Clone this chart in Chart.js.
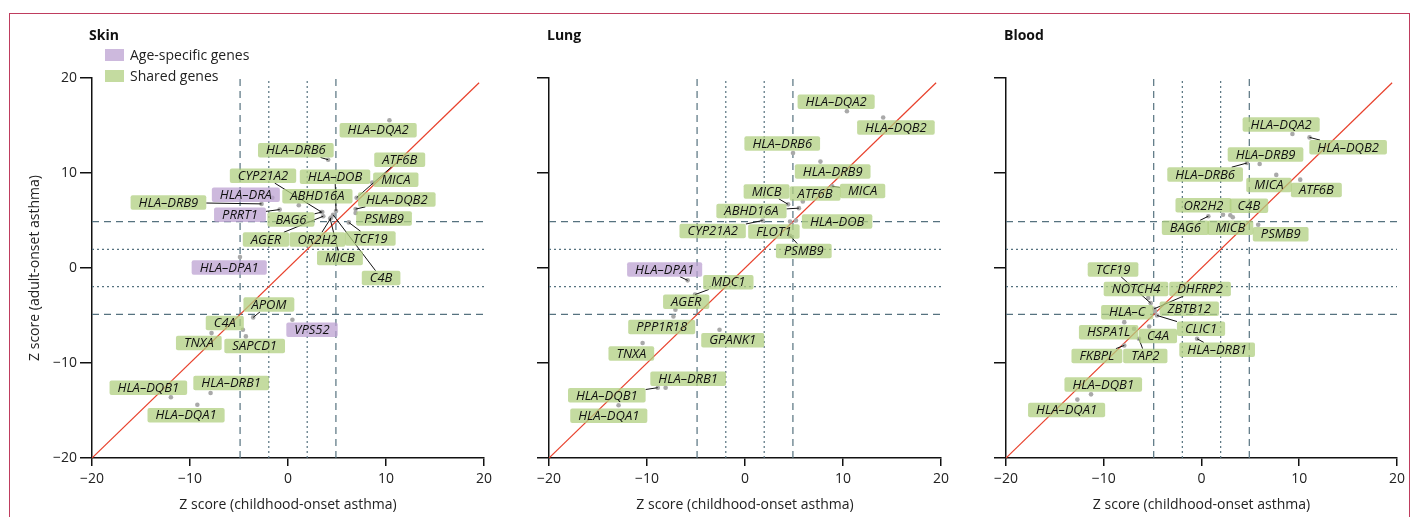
<!DOCTYPE html>
<html>
<head>
<meta charset="utf-8">
<script src="https://cdn.jsdelivr.net/npm/chart.js@4.4.1/dist/chart.umd.min.js"></script>
<style>
  body { margin: 0; background: #fff; font-family: 'Open Sans', sans-serif; }
  #page { position: relative; width: 1412px; height: 517px; overflow: hidden; }
  .frame { position: absolute; left: 9px; top: 13px; width: 1399px; height: 600px; border: 1px solid #bf3d5e; }
  .panel { position: absolute; top: 0; }
  .ptitle { position: absolute; top: 25px; font-weight: bold; font-size: 14px; color: #111; }
  .legend { position: absolute; left: 105px; top: 44px; font-size: 14px; color: #222; }
  .legend div { display: flex; align-items: center; height: 21px; }
  .swatch { width: 19px; height: 12px; margin-right: 6px; }
</style>
</head>
<body>
<div id="page">
  <div class="frame"></div>
  <canvas id="skinChart" class="panel" style="left:10px" width="487" height="517"></canvas>
  <canvas id="lungChart" class="panel" style="left:529px" width="425" height="517"></canvas>
  <canvas id="bloodChart" class="panel" style="left:986px" width="424" height="517"></canvas>
  <div class="ptitle" style="left:89px">Skin</div>
  <div class="ptitle" style="left:547px">Lung</div>
  <div class="ptitle" style="left:1004px">Blood</div>
  <div class="legend">
    <div><span class="swatch" id="swAge"></span>Age-specific genes</div>
    <div><span class="swatch" id="swShared"></span>Shared genes</div>
  </div>
</div>
<script>
// axis + reference lines
const axisTicks = [-20, -10, 0, 10, 20];
const dashedCut = [-4.89, 4.89];
const dottedCut = [-1.96, 1.96];
const diagonalEnds = [-20, 19.5];

// Skin
const skinGenes = ["HLA–DQA2", "HLA–DRB6", "ATF6B", "MICA", "HLA–DOB", "HLA–DQB2", "PSMB9", "TCF19",
  "CYP21A2", "ABHD16A", "HLA–DRA", "HLA–DRB9", "PRRT1", "BAG6", "AGER", "OR2H2", "MICB", "C4B",
  "HLA–DPA1", "APOM", "VPS52", "C4A", "SAPCD1", "TNXA", "HLA–DRB1", "HLA–DQB1", "HLA–DQA1"];
const skinChild = [10.35, 4.1, 7.0, 8.6, 4.9, 6.9, 6.9, 6.2, 3.4, 1.1, -1.6, -2.7, -0.85, 3.5, 3.6, 4.4, 4.3, 4.6,
  -4.9, -3.55, 0.45, -4.6, -4.3, -7.8, -7.9, -11.95, -9.25];
const skinAdult = [15.55, 11.4, 7.4, 9.0, 6.0, 6.2, 5.8, 4.8, 5.9, 6.6, 7.4, 6.75, 6.15, 5.9, 5.45, 5.3, 5.2, 5.6,
  1.15, -5.2, -5.45, -6.5, -7.2, -6.85, -13.15, -13.6, -14.4];
const skinLabelX = [9.2, 0.8, 11.4, 11.0, 4.8, 11.1, 9.8, 8.4, -2.55, 3.0, -4.3, -12.2, -4.9, 0.3, -2.25, 3.0, 5.3, 9.5,
  -6.0, -1.95, 2.45, -6.45, -3.4, -9.1, -5.8, -14.25, -10.4];
const skinLabelY = [14.5, 12.4, 11.4, 9.3, 9.6, 7.2, 5.2, 3.1, 9.7, 7.55, 7.7, 6.9, 5.6, 5.1, 3.0, 3.0, 1.05, -1.05,
  0.05, -3.85, -6.5, -5.8, -8.2, -7.9, -12.1, -12.6, -15.5];
const skinAgeSpecific = ["HLA–DRA", "PRRT1", "HLA–DPA1", "VPS52"];

// Lung
const lungGenes = ["HLA–DQA2", "HLA–DQB2", "HLA–DRB6", "HLA–DRB9", "MICA", "ATF6B", "MICB", "ABHD16A", "HLA–DOB",
  "CYP21A2", "FLOT1", "PSMB9", "HLA–DPA1", "MDC1", "AGER", "PPP1R18", "GPANK1", "TNXA", "HLA–DRB1", "HLA–DQB1", "HLA–DQA1"];
const lungChild = [10.4, 14.1, 4.9, 7.7, 8.9, 5.9, 4.4, 5.5, 5.2, 1.8, 4.6, 4.6, -5.85, -5.1, -7.1, -7.3, -2.6, -10.45, -8.1, -8.9, -12.9];
const lungAdult = [16.5, 15.85, 12.1, 11.2, 8.6, 7.0, 6.7, 6.3, 5.0, 5.0, 4.9, 3.4, -1.3, -2.8, -4.4, -5.1, -6.5, -7.9, -12.6, -12.6, -14.45];
const lungLabelX = [9.3, 15.4, 3.8, 8.95, 12.0, 7.15, 2.2, 0.66, 9.4, -3.3, 2.95, 6.0, -8.2, -1.7, -6.0, -8.5, -1.25, -11.6, -5.8, -14.1, -13.9];
const lungLabelY = [17.5, 14.8, 13.1, 10.15, 8.1, 7.85, 8.05, 6.0, 4.9, 3.9, 3.85, 1.8, -0.15, -1.5, -3.55, -6.2, -7.6, -9.0, -11.65, -13.4, -15.55];
const lungAgeSpecific = ["HLA–DPA1"];

// Blood
const bloodGenes = ["HLA–DQA2", "HLA–DQB2", "HLA–DRB9", "HLA–DRB6", "MICA", "ATF6B", "OR2H2", "C4B", "BAG6", "MICB", "PSMB9",
  "TCF19", "NOTCH4", "DHFRP2", "ZBTB12", "HLA–C", "HSPA1L", "C4A", "CLIC1", "TAP2", "FKBPL", "HLA–DRB1", "HLA–DQB1", "HLA–DQA1"];
const bloodChild = [9.3, 11.05, 5.95, 4.65, 7.65, 10.1, 2.2, 2.95, 0.7, 3.2, 5.8,
  -5.2, -5.45, -4.85, -4.75, -7.9, -6.9, -5.35, -4.55, -6.4, -7.9, -0.45, -11.3, -12.7];
const bloodAdult = [14.1, 13.75, 10.95, 11.05, 9.8, 9.3, 5.6, 5.55, 5.45, 5.35, 4.55,
  -3.7, -3.15, -4.3, -4.55, -5.7, -6.4, -6.15, -5.0, -7.45, -8.15, -7.45, -13.3, -13.85];
const bloodLabelX = [8.15, 15.0, 6.55, 0.37, 6.9, 11.75, 0.2, 4.85, -1.65, 2.95, 8.1,
  -9.05, -6.7, -0.15, -1.25, -7.6, -9.5, -4.45, -0.05, -5.75, -10.7, 1.6, -10.05, -13.8];
const bloodLabelY = [15.1, 12.7, 11.95, 9.85, 8.75, 8.2, 6.6, 6.55, 4.25, 4.25, 3.55,
  -0.17, -2.2, -2.2, -4.3, -4.65, -6.75, -7.15, -6.4, -9.25, -9.25, -8.6, -12.25, -14.95];
const bloodAgeSpecific = [];

const ageColor = "rgba(188,162,210,0.75)";
const sharedColor = "rgba(176,207,128,0.75)";
const refColor = "#56727f";
const fontFamily = "'Open Sans', sans-serif";

Chart.defaults.font.family = fontFamily;
document.getElementById("swAge").style.background = ageColor;
document.getElementById("swShared").style.background = sharedColor;

function refLine(data, dash) {
  return { data: data, showLine: true, borderColor: refColor, borderWidth: 1.2, borderDash: dash, pointRadius: 0, fill: false };
}

function fmt(v) {
  return v < 0 ? "\u2212" + Math.abs(v) : String(v);
}

function axis(isX, titleText, showLabels, yWidth) {
  return {
    type: "linear",
    min: -20,
    max: 20,
    afterBuildTicks: (s) => { s.ticks = axisTicks.map((v) => ({ value: v })); },
    ticks: {
      color: "#222",
      font: { size: 14 },
      padding: isX ? 5 : 3,
      maxRotation: 0,
      autoSkip: false,
      callback: (v) => (showLabels ? fmt(v) : ""),
    },
    grid: { drawOnChartArea: false, drawTicks: true, tickLength: isX ? 8 : 12, color: "#111", lineWidth: 1.5 },
    border: { display: true, color: "#111", width: 1.5 },
    title: {
      display: !!titleText,
      text: titleText,
      color: "#222",
      font: { size: 14 },
      padding: isX ? { top: 0, bottom: 3.6 } : { top: 17, bottom: 0 },
    },
    afterFit: (s) => {
      if (isX) s.height = 59;
      else s.width = yWidth;
    },
  };
}

// gene name boxes with leader segments
function labelPlugin(genes, child, adult, labelX, labelY, ageSpecific) {
  return {
    id: "geneLabels",
    afterDatasetsDraw(chart) {
      const { ctx, scales: { x, y } } = chart;
      ctx.save();
      ctx.font = "italic 13px " + fontFamily;
      const boxes = genes.map((g, i) => {
        const w = ctx.measureText(g).width + 16;
        const h = 14.5;
        return {
          g: g, w: w, h: h,
          cx: x.getPixelForValue(labelX[i]), cy: y.getPixelForValue(labelY[i]),
          px: x.getPixelForValue(child[i]), py: y.getPixelForValue(adult[i]),
          age: ageSpecific.includes(g),
        };
      });
      // segments
      ctx.strokeStyle = "#111";
      ctx.lineWidth = 1;
      boxes.forEach((b) => {
        const dx = b.px - b.cx, dy = b.py - b.cy;
        const t = Math.min(dx === 0 ? Infinity : b.w / 2 / Math.abs(dx), dy === 0 ? Infinity : b.h / 2 / Math.abs(dy));
        if (t >= 1) return;
        const sx = b.cx + dx * t, sy = b.cy + dy * t;
        if (Math.hypot(b.px - sx, b.py - sy) < 7) return;
        ctx.beginPath();
        ctx.moveTo(sx, sy);
        ctx.lineTo(b.px, b.py);
        ctx.stroke();
      });
      // boxes + text
      ctx.textAlign = "center";
      ctx.textBaseline = "middle";
      boxes.forEach((b) => {
        ctx.fillStyle = b.age ? ageColor : sharedColor;
        ctx.beginPath();
        ctx.roundRect(b.cx - b.w / 2, b.cy - b.h / 2, b.w, b.h, 2);
        ctx.fill();
        ctx.fillStyle = "#111";
        ctx.fillText(b.g, b.cx, b.cy + 0.5);
      });
      ctx.restore();
    },
  };
}

function buildPanel(canvasId, genes, child, adult, labelX, labelY, ageSpecific, first) {
  const yWidth = first ? 82 : 20;
  const datasets = [
    {
      data: genes.map((g, i) => ({ x: child[i], y: adult[i] })),
      pointRadius: 2.3,
      pointBackgroundColor: "#a9a9a9",
      pointBorderWidth: 0,
      showLine: false,
    },
    {
      data: diagonalEnds.map((v) => ({ x: v, y: v })),
      showLine: true,
      borderColor: "#e8412c",
      borderWidth: 1.2,
      pointRadius: 0,
    },
  ];
  dashedCut.forEach((v) => {
    datasets.push(refLine([{ x: v, y: -20 }, { x: v, y: 20 }], [7, 5]));
    datasets.push(refLine([{ x: -20, y: v }, { x: 20, y: v }], [7, 5]));
  });
  dottedCut.forEach((v) => {
    datasets.push(refLine([{ x: v, y: -20 }, { x: v, y: 20 }], [2, 3]));
    datasets.push(refLine([{ x: -20, y: v }, { x: 20, y: v }], [2, 3]));
  });

  new Chart(document.getElementById(canvasId).getContext("2d"), {
    type: "scatter",
    data: { datasets: datasets },
    options: {
      responsive: false,
      animation: false,
      events: [],
      layout: { padding: { top: 78, right: 12, bottom: 0, left: 0 } },
      plugins: { legend: { display: false }, tooltip: { enabled: false } },
      scales: {
        x: axis(true, "Z score (childhood-onset asthma)", true, 0),
        y: axis(false, first ? "Z score (adult-onset asthma)" : "", first, yWidth),
      },
    },
    plugins: [labelPlugin(genes, child, adult, labelX, labelY, ageSpecific)],
  });
}

buildPanel("skinChart", skinGenes, skinChild, skinAdult, skinLabelX, skinLabelY, skinAgeSpecific, true);
buildPanel("lungChart", lungGenes, lungChild, lungAdult, lungLabelX, lungLabelY, lungAgeSpecific, false);
buildPanel("bloodChart", bloodGenes, bloodChild, bloodAdult, bloodLabelX, bloodLabelY, bloodAgeSpecific, false);
</script>
</body>
</html>
